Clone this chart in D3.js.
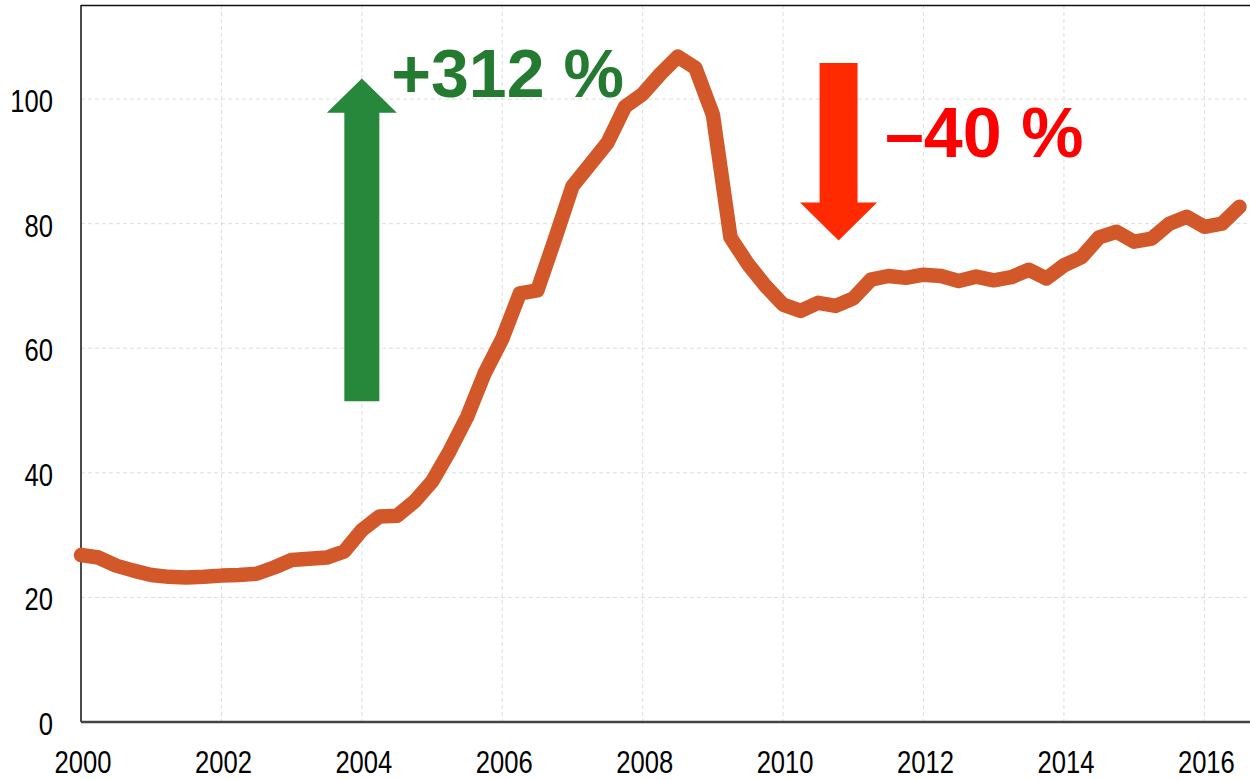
<!DOCTYPE html>
<html>
<head>
<meta charset="utf-8">
<script src="https://cdn.jsdelivr.net/npm/d3@7"></script>
<style>
  body { margin: 0; background: #fff; }
  svg { display: block; }
  .tick-label { font-family: "Liberation Sans", Arial, sans-serif; font-size: 32px; fill: #000; }
  .note { font-family: "Liberation Sans", Arial, sans-serif; font-weight: bold; }
</style>
</head>
<body>
<script>
// quarterly index values, 2000 Q1 .. 2016 Q3
const startYear = 2000;
const values = [
  26.8, 26.4, 25.1, 24.3, 23.6, 23.3, 23.2, 23.3, 23.5, 23.6,
  23.8, 24.8, 26.0, 26.2, 26.4, 27.4, 30.8, 33.0, 33.1, 35.4,
  38.6, 43.5, 49.0, 56.0, 61.5, 68.8, 69.3, 77.5, 86.0, 89.5,
  93.0, 98.8, 100.8, 104.0, 106.8, 105.0, 97.5, 77.8, 73.5, 70.0,
  67.0, 66.0, 67.3, 66.8, 68.0, 71.0, 71.6, 71.3, 71.8, 71.6,
  70.8, 71.5, 70.9, 71.4, 72.6, 71.2, 73.3, 74.6, 77.8, 78.7,
  77.1, 77.6, 80.0, 81.1, 79.5, 80.0, 82.7
];
const xTicks = [2000, 2002, 2004, 2006, 2008, 2010, 2012, 2014, 2016];
const yTicks = [0, 20, 40, 60, 80, 100];

// annotations: arrows in data units (year, value)
const upArrow = { year: 2004, from: 51.5, to: 103.3, headBase: 97.8, shaft: 35, head: 70, color: "#27873b" };
const downArrow = { year: 2010.79, from: 105.8, to: 77.3, headBase: 83.4, shaft: 38, head: 77, color: "#ff2a00" };
const labels = [
  { text: "+312 %", year: 2004.42, value: 100.3, size: 68, color: "#237a30" },
  { text: "\u201340 %", year: 2011.45, value: 90.7, size: 70, color: "#ff0000" }
];

const width = 1250, height = 780;
const margin = { top: 5, right: 0, bottom: 58, left: 81 };
const narrow = 0.8; // condensed look of the tick font

const svg = d3.select("body").append("svg")
  .attr("width", width)
  .attr("height", height);

const x = d3.scaleLinear()
  .domain([2000, 2016.65])
  .range([margin.left, width - margin.right]);

const y = d3.scaleLinear()
  .domain([0, 115.1])
  .range([height - margin.bottom, margin.top]);

// grid
const grid = svg.append("g");
grid.selectAll(".vg")
  .data(xTicks.slice(1))
  .enter().append("line")
  .attr("x1", d => x(d)).attr("x2", d => x(d))
  .attr("y1", y.range()[1]).attr("y2", y.range()[0])
  .attr("stroke", "#dedede")
  .attr("stroke-dasharray", "4,3");
grid.selectAll(".hg")
  .data(yTicks.slice(1))
  .enter().append("line")
  .attr("x1", x.range()[0]).attr("x2", x.range()[1])
  .attr("y1", d => y(d)).attr("y2", d => y(d))
  .attr("stroke", "#dedede")
  .attr("stroke-dasharray", "4,3");

// frame
svg.append("line")
  .attr("x1", x.range()[0]).attr("x2", x.range()[1])
  .attr("y1", y.range()[1] + 0.5).attr("y2", y.range()[1] + 0.5)
  .attr("stroke", "#111").attr("stroke-width", 1.5);
svg.append("line")
  .attr("x1", x.range()[0]).attr("x2", x.range()[0])
  .attr("y1", y.range()[1]).attr("y2", y.range()[0])
  .attr("stroke", "#111").attr("stroke-width", 1.5);
svg.append("line")
  .attr("x1", x.range()[0]).attr("x2", x.range()[1])
  .attr("y1", y(0)).attr("y2", y(0))
  .attr("stroke", "#444").attr("stroke-width", 2.5);

// tick labels
svg.selectAll(".ylab")
  .data(yTicks)
  .enter().append("text")
  .attr("class", "tick-label")
  .attr("transform", d => `translate(${x.range()[0] - 28},${y(d) + 13}) scale(${narrow},1)`)
  .attr("text-anchor", "end")
  .text(d => d);

svg.selectAll(".xlab")
  .data(xTicks)
  .enter().append("text")
  .attr("class", "tick-label")
  .attr("transform", d => `translate(${x(d) + 2},${height - 7}) scale(${narrow},1)`)
  .attr("text-anchor", "middle")
  .text(d => d);

// arrows
function arrowPath(a) {
  const cx = x(a.year);
  const s = a.shaft / 2, h = a.head / 2;
  return [
    [cx - s, y(a.from)], [cx - s, y(a.headBase)], [cx - h, y(a.headBase)],
    [cx, y(a.to)], [cx + h, y(a.headBase)], [cx + s, y(a.headBase)], [cx + s, y(a.from)]
  ];
}
svg.selectAll(".arrow")
  .data([upArrow, downArrow])
  .enter().append("polygon")
  .attr("points", d => arrowPath(d).map(p => p.join(",")).join(" "))
  .attr("fill", d => d.color);

// series line
const line = d3.line()
  .x((d, i) => x(startYear + i / 4))
  .y(d => y(d));

svg.append("path")
  .datum(values)
  .attr("d", line)
  .attr("fill", "none")
  .attr("stroke", "#d2582a")
  .attr("stroke-width", 14.5)
  .attr("stroke-linejoin", "round")
  .attr("stroke-linecap", "round");

// percentage labels
svg.selectAll(".note")
  .data(labels)
  .enter().append("text")
  .attr("class", "note")
  .attr("x", d => x(d.year))
  .attr("y", d => y(d.value))
  .attr("font-size", d => d.size)
  .attr("fill", d => d.color)
  .text(d => d.text);
</script>
</body>
</html>
